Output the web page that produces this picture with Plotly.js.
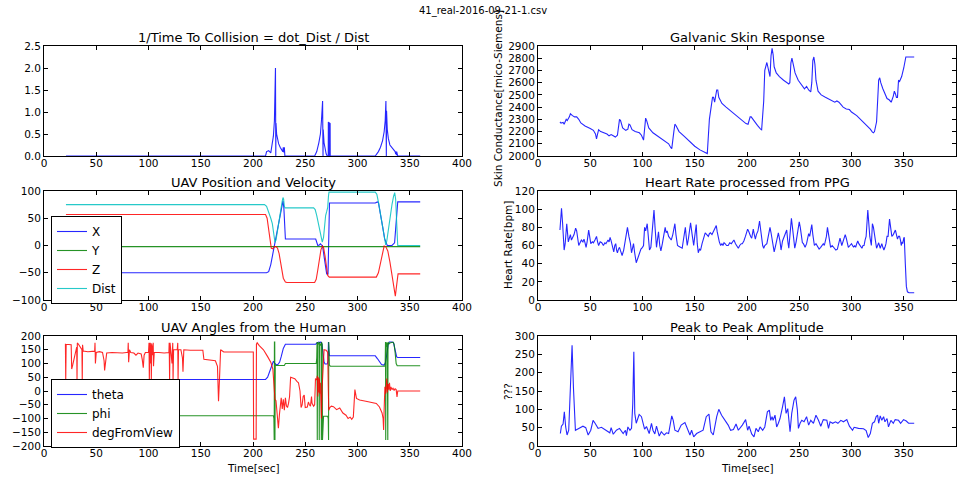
<!DOCTYPE html>
<html>
<head>
<meta charset="utf-8">
<script src="https://cdn.plot.ly/plotly-3.0.1.min.js"></script>
<style>
html,body{margin:0;padding:0;background:#fff;}
#chart{width:966px;height:477px;}
</style>
</head>
<body>
<div id="chart"></div>
<script>
// ---------- DATA ----------
const figTitle = "41_real-2016-09-21-1.csv";
const xTicks = [0, 50, 100, 150, 200, 250, 300, 350, 400];

// 1/Time To Collision
const ttcT = [21,212,213,215,217,218.5,219.5,220.5,221.2,221.5,221.7,221.8,222,222.6,223.5,224.5,226,227.5,228.5,229,229.5,230,230.5,259,261,263,264.5,265.5,266.2,266.6,266.8,267,267.2,268,269,270,271,272,272.1,272.9,273.0,273.2,273.8,273.9,317,320,322,324,325.5,326.5,327.2,327.5,327.6,327.8,328.5,329.5,331,333,335,336,336.5,336.8,337.2,337.5,338,338.5,360];
const ttcV = [0,0,0.1,0.12,0.07,0.25,0.45,0.8,1.3,2.0,0.7,0,0.75,0.5,0.35,0.28,0.2,0.15,0.1,0.2,0.08,0.2,0,0,0.1,0.3,0.5,0.8,1.03,1.25,0.6,0,0.6,0.3,0.15,0.05,0,0,0.77,0.75,0,0.75,0.74,0,0,0.1,0.2,0.35,0.55,0.8,1.25,0.3,0,1.03,0.6,0.4,0.25,0.18,0.12,0.1,0.05,0.1,0.02,0.1,0.05,0,0];

// Galvanic Skin Response
const gsrT = [21,22,24,25,27,28,30,31,33,35,37,39,41,45,50,53,55,56,57,58,60,63,66,68,70,72,74,76,78,79,81,84,86,87,88,90,93,97,99,101,102,103,104,106,110,115,120,125,127,128,130,131,132,135,140,145,150,155,160,162,164,166,167,168,169,171,172,173,176,180,185,190,195,199,201,203,204,207,210,213,214,216,217,219,221,222,223,224,225,226,228,231,235,238,240,241,242,243,244,246,249,252,255,257,259,261,262,263,264,265,266,268,271,275,280,284,286,288,292,295,298,300,305,310,315,318,320,321,322,324,325,326,327,328,330,332,334,336,338,340,341,342,343,344,345,346,348,350,351,352,360];
const gsrV = [2280,2270,2275,2260,2300,2290,2320,2345,2330,2320,2320,2300,2270,2245,2225,2210,2180,2140,2180,2215,2200,2190,2180,2165,2175,2165,2155,2170,2300,2290,2230,2210,2220,2260,2255,2215,2200,2190,2170,2130,2200,2310,2290,2230,2190,2160,2130,2100,2070,2060,2200,2260,2250,2200,2160,2120,2080,2050,2025,2020,2300,2450,2480,2480,2440,2540,2540,2480,2430,2400,2365,2330,2295,2265,2260,2320,2320,2280,2250,2220,2215,2450,2700,2765,2680,2650,2820,2880,2830,2730,2680,2650,2620,2600,2590,2600,2760,2800,2760,2680,2620,2580,2550,2570,2540,2525,2600,2780,2810,2750,2620,2530,2500,2480,2460,2440,2450,2440,2400,2385,2380,2360,2330,2290,2250,2220,2195,2190,2200,2280,2450,2620,2640,2600,2550,2510,2470,2460,2440,2490,2530,2510,2480,2480,2620,2610,2650,2720,2780,2810,2810];

// UAV Position and Velocity
const posXT = [21,213,215,217,219,221,223,225,227,228.7,229.5,230.3,231,260,261,262,263.5,264.5,265.5,266.5,268,269.5,270.5,271.8,272.5,273.2,317,319,320,322,324,326,327.5,328.5,333,334.5,335.5,336.5,337.5,338.5,360];
const posXV = [-50,-50,-48,-35,-15,5,25,50,70,82,70,30,12,12,5,0,1,3,1,0,-20,-45,-52,-52,20,78,78,80,79,60,35,12,2,0,0,2,5,30,65,80,80];
const posYT = [21,360];
const posYV = [-2,-2];
const posZT = [21,212,213.5,215,216.5,217.5,219,220.5,222,223.5,225,227,229,231,232.5,259,260.5,262,263.5,265,266.5,267.5,269,270.5,271.5,273,318,320,322,324,325.5,327,329,331,333,334.5,335.5,336.2,337,338,338.8,360];
const posZV = [57,57,50,30,5,-5,-6,-2,-2,-5,-15,-40,-60,-67,-68,-68,-62,-45,-25,-8,-1,-3,-20,-45,-55,-58,-58,-50,-30,-10,-1,-2,-10,-30,-55,-75,-88,-93,-80,-55,-52,-52];
const posDT = [21,211,213,215,217,218.5,219.5,220.5,221,222,223.5,225,226.5,228,228.7,229.3,230,230.6,258,259.5,261,262.5,264,265.5,266.3,267.5,268.5,269.5,270.5,271.5,272.2,272.7,317,318.5,320,322,324,325.5,326.5,327,328,329.5,331,333,334.5,335.6,336.5,337.5,338.5,360];
const posDV = [75,75,72,62,50,40,25,12,6,10,30,50,68,82,88,85,72,69,69,66,55,40,25,12,6,15,40,55,62,70,90,98,98,94,80,55,30,12,3,1,8,30,55,75,90,97,85,40,0,0];

// Heart Rate processed from PPG
const hrT = [21,22.5,23.5,25,26,27.5,29,30,31,32,33,34.5,36,37,39,40.5,41.5,43,44,45,46,47,48.5,50,50.5,52,53,54.5,56,57,58,59.5,61,62.6,64,65,66,67,68,69,70,70.6,71.5,72.5,73.5,74.4,75.2,76,77,78,79,80.5,82,84,85.6,87,88.5,89.5,90.5,91.4,92.5,94,95.5,97,98.5,100,101,102,103,104.5,105.5,106.7,108,109,110,111,112,113.4,114.5,115.3,116.5,117.6,119,120.5,121.7,122.6,123.6,125,126,127.5,129,131,132,133.5,135,136.5,138,139,141,142,142.8,144,146,147.5,149,150,151.4,152.4,153.4,154.5,155.6,157,158.5,160,161.5,163,164,165,166.5,168,169.5,170.6,171.5,172.5,173.5,174.8,176,177,178,179,180.5,182,183.5,185,186,187.5,189,190,191.7,193,194.5,195.5,197,198.5,199.5,200.6,201.5,202.5,203.5,204.5,206,207,208,209,210.5,212,213,214,215,216,217,219,220.5,222,223,224.5,226,227,228.5,230,231.5,232.6,234,235.5,237,238,239,240,241,242.5,243.5,244.5,245.7,247,248.5,250,251,252,253,254,255.6,257,258,259,260,261,262,263,264.5,266,267,268,269,270.5,272,273,274,275,276,277,278,279,280,281.5,283,285,286.5,288,289,290.7,292,293,294,295,296,297,298.5,300,301,302,303,304,305,306,307,308,309,310,311,312,313,314,315.6,316.5,317.5,319,320,321,322.6,323.3,324,325,326,327.5,328.3,329,330,331,332,333,334,335,336.4,337.5,338.6,340,341,342,343,344,345,346,347,347.6,348.5,349,350,350.5,351.5,352.5,353.5,355,360];
const hrV = [77,101,85,55,62,84,64,70,72,66,68,72,79,76,60,64,66,64,67,63,58,64,77,66,62,64,63,66,70,64,60,64,63,60,63,62,64,66,64,69,65,62,60,53,60,62,55,52,56,58,54,49,55,70,80,70,62,52,58,62,52,41,46,52,56,58,60,80,76,84,65,55,58,70,80,99,80,58,68,75,60,54,62,72,80,74,76,70,68,66,72,84,72,60,59,58,57,65,80,68,60,68,85,72,60,70,83,62,52,56,55,62,68,74,72,70,73,74,72,76,80,82,75,67,64,60,62,60,63,62,60,60,63,62,64,66,62,60,57,60,62,62,65,70,74,78,76,72,70,68,78,72,67,72,76,87,76,66,60,57,60,62,70,80,74,62,53,58,65,74,65,55,65,70,73,77,65,57,70,90,80,65,57,64,75,86,80,70,63,62,58,62,68,73,70,78,83,72,60,62,60,58,56,58,60,62,60,64,70,80,72,62,58,60,58,55,56,62,68,60,65,70,72,68,62,58,60,62,60,58,60,58,62,65,62,60,58,57,60,60,66,70,99,85,70,60,84,80,70,62,57,60,63,57,60,62,58,55,58,62,70,70,89,80,70,72,74,77,72,67,70,70,65,60,64,62,68,69,40,15,9,8,8];

// UAV Angles from the Human
const thetaT = [21,212,214,216,218,219.5,221,222.5,224,225.5,227,229,231,260,261.5,263,264,265,266,267,268,269,271,271.8,272.2,272.6,273.2,317,319,321,323,325,326.5,327.5,328.5,329.5,330.5,333,334.5,335.5,336.5,337.5,338.5,360];
const thetaV = [42,42,50,70,95,108,100,95,97,105,125,155,170,170,176,178,176,178,170,140,105,98,98,110,178,150,128,128,118,105,96,94,100,120,150,172,178,178,175,160,135,124,122,122];
const phiT = [21,219.5,220,220.3,220.5,220.8,221,221.3,222,230,231,260.5,261,261.3,261.5,261.8,262.5,263.2,263.4,263.6,264.5,265.2,265.4,265.6,266.2,266.5,266.8,267.5,271.5,272,272.3,272.5,272.8,273.1,274,326,326.5,326.8,327,327.3,328,328.5,328.7,329,329.2,330,331,334,335,336,337,338,360];
const phiV = [-90,-90,-100,-178,178,178,-178,96,93,93,100,100,120,178,-178,178,170,175,-178,178,165,172,-178,178,170,-178,-100,-92,-92,-100,-178,178,-178,95,90,90,100,178,-178,178,160,175,-178,-178,178,170,175,178,170,140,100,92,92];
const dfvT = [20.5,20.8,21.2,26,26.5,27.5,29,30.5,31.3,31.6,31.9,33,35,36.3,36.6,36.9,37.5,42,46,48.5,48.8,49.2,50,53,56,57.5,58,58.8,60,65,70,75,79,80.3,80.6,81,81.8,83,86,88,90,93,94,95,95.8,97,100,100.5,100.8,101.2,102,102.4,102.7,103.1,104,104.5,104.8,105.5,110,115,119.5,119.8,120.2,120.6,121.5,122.5,123.2,123.5,124,127.5,128,128.3,128.7,131,132.5,133,133.8,140,150,152,153,160,164,166,167,168,169,172,180,190,200,200.3,200.6,203,203.3,204,206,210,214,217,219,219.8,220.3,221,222,223,224.3,225.3,226.2,227,228,229,230,231,232,233,234,235,236,238,240,242,243.5,245,246,247,248,249,250,252,253,254,255,256,256.5,258,259,259.8,261,261.5,262,262.5,263,263.5,264,264.5,265,265.5,266,267,268,270,271.5,272,272.5,273.5,275,277,280,283,286,289,291,293,294.5,296,297.5,299,302,308,315,318,321,323.5,324.5,325,325.4,326.2,327,327.6,328,328.6,329.3,330,330.6,331.3,332,333,334,335,336,337,337.8,338.5,360];
const dfvV = [172,40,170,168,80,95,125,145,160,40,175,170,155,150,40,168,145,143,145,145,175,100,140,143,140,110,75,110,138,140,138,138,140,140,175,105,150,140,138,130,138,135,115,85,130,140,140,175,40,175,100,175,40,170,130,175,90,140,140,138,140,175,40,175,140,100,175,40,150,150,175,40,150,150,120,70,150,148,147,148,115,112,110,90,-37,50,150,142,142,141,142,142,-175,-175,170,175,165,150,125,105,80,40,-15,-30,-35,-90,-135,-85,-60,-25,-65,-30,-70,-25,-55,-60,-45,-20,50,48,45,35,30,0,-60,-50,-20,-15,-60,-58,-40,-50,-55,-20,-45,-55,-50,45,40,55,-20,50,-5,45,-10,30,-60,-100,0,100,150,148,140,20,-70,-60,-55,-57,-68,-62,-80,-88,-100,-95,-103,-95,5,-27,-33,-37,-43,-45,-58,-80,-100,-142,-80,15,-10,30,45,-5,25,5,30,0,15,5,10,3,8,5,-22,0,0];

// Peak to Peak Amplitude
const ppaT = [21.4,22.4,24,25.2,26.5,27.8,29.4,31.3,32.6,33.9,35.8,39,43,45.7,48,50.5,52.7,54.6,57.5,60.7,65.5,68.7,70,72,75,78,81.5,83.7,84.6,86,88,89.5,90.7,91.7,92.6,94,96.8,99,100.6,102,103.8,106.4,108.6,110,111.8,113.4,116,118,120.8,123,125,128,129.4,131,134,137,140.6,143.8,145.4,147,149,151.8,155,158,161,163.6,165.5,167.7,171,173,175.7,179,182,184.3,187,189.5,191.7,195.5,198.7,200.6,202,204.5,206.7,208.6,210.8,212.5,215,217,219.5,221.4,222.7,224,225,226.8,228.4,230,231.6,234,235.8,237.4,239,241.2,242.8,245,246.6,248.2,249.2,250.8,252.4,254.6,257,259,261,263.6,266,268.4,270.6,273,276.4,278,279.5,282,284.7,287,289.8,292.3,295.5,298,301,302.5,306.7,311.5,314,316,318,320,322,323.6,325,326,327.5,329,330.7,332,334,335.4,337.7,340,341.8,345,347,349.8,352.4,354.6,360];
const ppaV = [34,54,60,93,52,30,43,160,275,160,43,48,54,50,30,43,70,62,48,51,43,36,50,32,43,48,34,43,28,52,43,48,116,257,89,62,86,80,62,46,53,34,62,43,33,54,27,39,30,36,34,82,70,43,39,57,64,43,30,43,25,34,39,43,80,87,39,30,80,100,84,70,57,43,45,60,43,57,72,43,54,33,25,48,39,52,43,52,93,98,70,80,70,84,52,62,75,107,134,89,102,39,89,125,134,98,48,62,70,66,80,57,70,62,84,70,54,72,70,48,66,62,66,62,70,66,72,54,43,51,48,47,42,23,34,62,66,80,84,62,82,70,80,66,75,52,70,62,72,70,62,72,68,62,62];

// ---------- LAYOUT HELPERS ----------
const W = 966, H = 477;
const px = v => v / W;
const py = v => 1 - v / H;
const colL = [px(44), px(462)], colR = [px(538), px(956)];
const row1 = [py(156), py(46)], row2 = [py(300), py(191)], row3 = [py(446), py(336)];
const FONT = "DejaVu Sans, Arial, sans-serif";

function xax(domain, anchor) {
  return {domain: domain, anchor: anchor, range: [0, 400], tickvals: xTicks,
    ticks: 'inside', ticklen: 4, tickcolor: '#000', showline: true, linecolor: '#000',
    linewidth: 1, mirror: 'ticks', showgrid: false, zeroline: false,
    ticklabelstandoff: -3,
    tickfont: {size: 10.5, color: '#000', family: FONT}};
}
function yax(domain, anchor, range, dtick, fmt) {
  const a = {domain: domain, anchor: anchor, range: range, dtick: dtick, tick0: range[0],
    ticks: 'inside', ticklen: 4, tickcolor: '#000', showline: true, linecolor: '#000',
    linewidth: 1, mirror: 'ticks', showgrid: false, zeroline: false,
    tickfont: {size: 10.5, color: '#000', family: FONT}};
  if (fmt) a.tickformat = fmt;
  return a;
}
const BLUE = '#0000ff', GREEN = '#008000', RED = '#ff0000', CYAN = '#00bfbf';
function ln(x, y, color, xa, ya, name, legend) {
  const t = {x: x, y: y, type: 'scatter', mode: 'lines', line: {color: color, width: 1.1},
    opacity: 0.85, xaxis: xa, yaxis: ya, showlegend: !!name, hoverinfo: 'skip'};
  if (name) { t.name = name; t.legend = legend; }
  return t;
}

const data = [
  ln(ttcT, ttcV, BLUE, 'x', 'y'),
  ln(gsrT, gsrV, BLUE, 'x2', 'y2'),
  ln(posXT, posXV, BLUE, 'x3', 'y3', 'X', 'legend'),
  ln(posYT, posYV, GREEN, 'x3', 'y3', 'Y', 'legend'),
  ln(posZT, posZV, RED, 'x3', 'y3', 'Z', 'legend'),
  ln(posDT, posDV, CYAN, 'x3', 'y3', 'Dist', 'legend'),
  ln(hrT, hrV, BLUE, 'x4', 'y4'),
  ln(thetaT, thetaV, BLUE, 'x5', 'y5', 'theta', 'legend2'),
  ln(phiT, phiV, GREEN, 'x5', 'y5', 'phi', 'legend2'),
  ln(dfvT, dfvV, RED, 'x5', 'y5', 'degFromView', 'legend2'),
  ln(ppaT, ppaV, BLUE, 'x6', 'y6')
];

function ann(text, x, y, size, angle) {
  return {text: text, x: x, y: y, xref: 'paper', yref: 'paper', showarrow: false,
    xanchor: 'center', yanchor: 'middle', textangle: angle || 0,
    font: {size: size, color: '#000', family: FONT}};
}
const cxL = px(253), cxR = px(747);
const annotations = [
  ann('1/Time To Collision = dot_Dist / Dist', cxL, py(37), 13),
  ann('Galvanic Skin Response', cxR, py(37), 13),
  ann('UAV Position and Velocity', cxL, py(182), 13),
  ann('Heart Rate processed from PPG', cxR, py(182), 13),
  ann('UAV Angles from the Human', cxL, py(327), 13),
  ann('Peak to Peak Amplitude', cxR, py(327), 13),
  ann('Time[sec]', cxL, py(468), 10.5),
  ann('Time[sec]', cxR, py(468), 10.5),
  ann('Skin Conductance[mico-Siemens]', px(498), py(99), 10.5, -90),
  ann('Heart Rate[bpm]', px(508), py(245), 10.5, -90),
  ann('???', px(508), py(391), 10.5, -90)
];

const legendStyle = {xanchor: 'left', yanchor: 'top', bordercolor: '#000', borderwidth: 1,
  bgcolor: '#fff', font: {size: 12, color: '#000', family: FONT}, tracegroupgap: 0};

const layout = {
  width: W, height: H, margin: {l: 0, r: 0, t: 0, b: 0},
  paper_bgcolor: '#fff', plot_bgcolor: '#fff',
  font: {family: FONT, color: '#000'},
  title: {text: figTitle, x: 0.5, xanchor: 'center', y: py(10), yanchor: 'middle',
    font: {size: 10, color: '#000', family: FONT}},
  xaxis: xax(colL, 'y'), yaxis: yax(row1, 'x', [0, 2.5], 0.5, '.1f'),
  xaxis2: xax(colR, 'y2'), yaxis2: yax(row1, 'x2', [2000, 2900], 100),
  xaxis3: xax(colL, 'y3'), yaxis3: yax(row2, 'x3', [-100, 100], 50),
  xaxis4: xax(colR, 'y4'), yaxis4: yax(row2, 'x4', [0, 120], 20),
  xaxis5: xax(colL, 'y5'), yaxis5: yax(row3, 'x5', [-200, 200], 50),
  xaxis6: xax(colR, 'y6'), yaxis6: yax(row3, 'x6', [0, 300], 50),
  legend: Object.assign({x: px(51), y: py(216)}, legendStyle),
  legend2: Object.assign({x: px(51), y: py(379)}, legendStyle),
  annotations: annotations,
  showlegend: true
};

Plotly.newPlot('chart', data, layout, {displayModeBar: false, staticPlot: true});
</script>
</body>
</html>
